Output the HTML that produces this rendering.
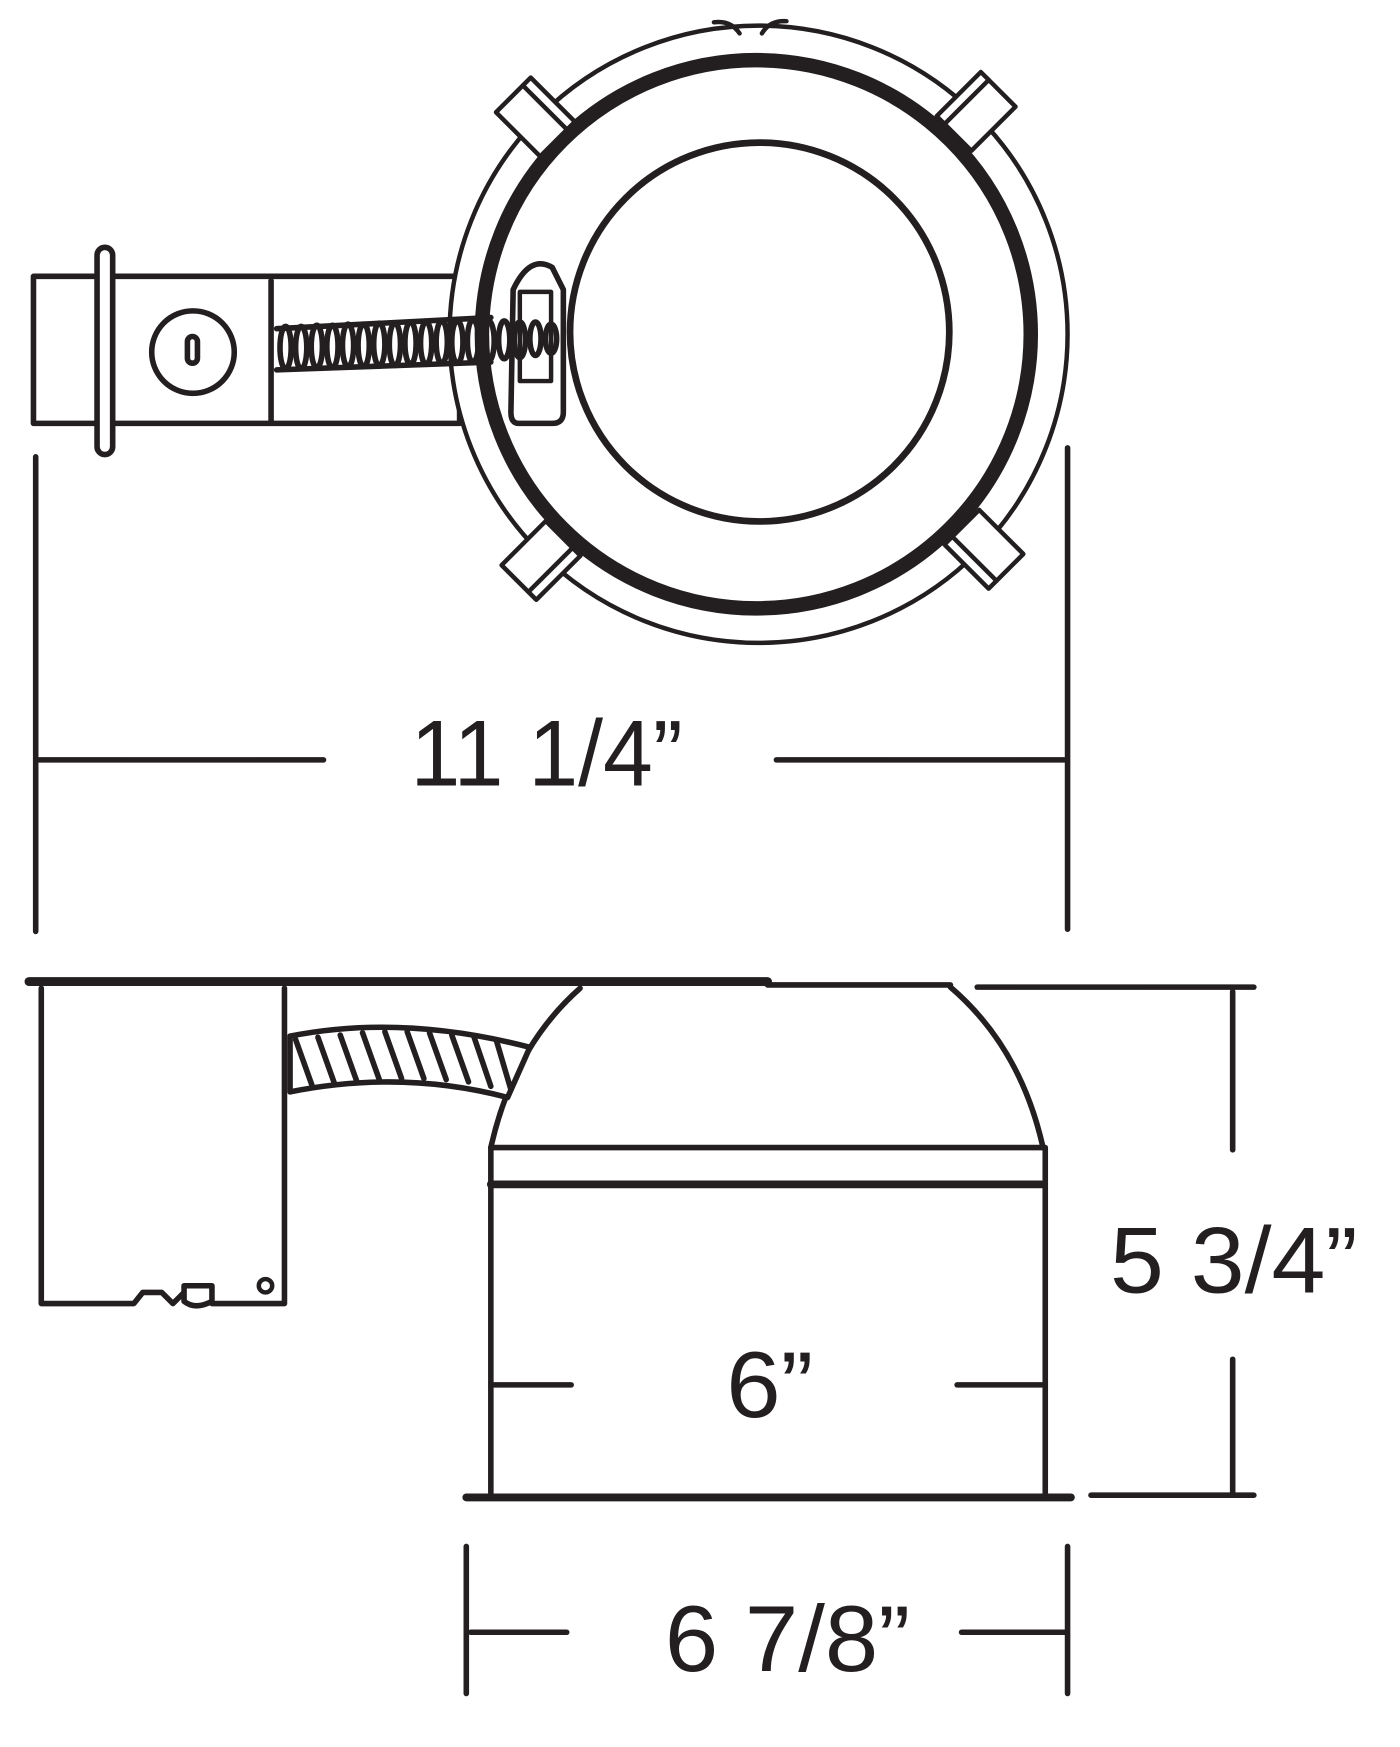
<!DOCTYPE html>
<html><head><style>html,body{margin:0;padding:0;background:#fff}svg{display:block}text{font-family:"Liberation Sans",sans-serif;fill:#231f20}</style></head>
<body>
<svg width="1400" height="1747" viewBox="0 0 1255 1568" preserveAspectRatio="none" xmlns="http://www.w3.org/2000/svg">
<g fill="none" stroke="#231f20" stroke-linecap="round" stroke-linejoin="round">
<rect x="30" y="248" width="382" height="132" stroke-width="5" fill="#fff"/>
<line x1="243" y1="252" x2="243" y2="378" stroke-width="5"/>
<rect x="87" y="222" width="14" height="186" rx="7" stroke-width="5" fill="#fff"/>
<circle cx="173" cy="316" r="37" stroke-width="5"/>
<rect x="168" y="302" width="9" height="24" rx="4.5" stroke-width="5"/>
<circle cx="680" cy="300" r="277" stroke-width="4" fill="#fff"/>
<path d="M663 30 Q655 18 640 20 M683 30 Q690 18 705 19" stroke-width="4"/>
<circle cx="678" cy="300" r="246" stroke-width="13"/>
<circle cx="681" cy="298" r="170" stroke-width="6"/>
<g stroke-width="5">
<path d="M248 295 L440 285 M248 332 L440 325"/>
<ellipse cx="256" cy="312" rx="5" ry="19"/><ellipse cx="270" cy="312" rx="5" ry="19"/><ellipse cx="284" cy="311" rx="5" ry="19"/><ellipse cx="298" cy="311" rx="5" ry="19"/><ellipse cx="312" cy="310" rx="5" ry="19"/><ellipse cx="326" cy="310" rx="5" ry="19"/><ellipse cx="340" cy="309" rx="5" ry="19"/><ellipse cx="354" cy="309" rx="5" ry="19"/><ellipse cx="368" cy="308" rx="5" ry="19"/><ellipse cx="382" cy="308" rx="5" ry="19"/><ellipse cx="396" cy="307" rx="5" ry="19"/><ellipse cx="410" cy="307" rx="5" ry="19"/><ellipse cx="424" cy="306" rx="5" ry="19"/><ellipse cx="438" cy="306" rx="5" ry="18"/><ellipse cx="452" cy="305" rx="5" ry="17"/><ellipse cx="466" cy="305" rx="5" ry="16"/><ellipse cx="480" cy="304" rx="5" ry="15"/><ellipse cx="494" cy="304" rx="5" ry="13"/>
</g>
<path d="M460 260 Q475 228 495 240 L505 260 L505 370 Q505 380 495 380 L465 380 Q458 380 458 370 Z" stroke-width="5" fill="none"/>
<rect x="466" y="262" width="28" height="80" stroke-width="4"/>
<g stroke-width="4" fill="#fff">
<g transform="translate(480,105) rotate(45)"><rect x="-28" y="-22" width="56" height="44"/><line x1="-28" y1="-12" x2="28" y2="-12"/></g>
<g transform="translate(875,100) rotate(-45)"><rect x="-28" y="-22" width="56" height="44"/><line x1="-28" y1="-12" x2="28" y2="-12"/></g>
<g transform="translate(485,503) rotate(-45)"><rect x="-28" y="-22" width="56" height="44"/><line x1="-28" y1="12" x2="28" y2="12"/></g>
<g transform="translate(882,493) rotate(45)"><rect x="-28" y="-22" width="56" height="44"/><line x1="-28" y1="12" x2="28" y2="12"/></g>
</g>
<g stroke-width="5">
<line x1="32" y1="410" x2="32" y2="836"/><line x1="957" y1="402" x2="957" y2="834"/>
<line x1="35" y1="682" x2="290" y2="682"/><line x1="696" y1="682" x2="954" y2="682"/>
</g>
<line x1="26" y1="881" x2="688" y2="881" stroke-width="8"/>
<line x1="688" y1="884" x2="852" y2="884" stroke-width="5"/>
<line x1="876" y1="886" x2="1124" y2="886" stroke-width="5"/>
<path d="M37 887 L37 1170 L120 1170 L128 1160 L145 1160 L155 1170 L165 1160 L165 1168 Q175 1176 190 1168 L190 1154 L165 1154 L165 1160 M190 1170 L255 1170 L255 887" stroke-width="5" fill="#fff"/>
<circle cx="238" cy="1154" r="6" stroke-width="4"/>
<path d="M520 887 Q460 940 440 1030 M852 886 Q915 940 935 1030" stroke-width="5"/>
<path d="M260 930 Q360 910 475 940 L455 985 Q360 960 260 980 Z" stroke-width="5" fill="#fff"/>
<g stroke-width="5"><line x1="265" y1="933" x2="280" y2="975"/><line x1="285" y1="931" x2="300" y2="973"/><line x1="305" y1="929" x2="320" y2="971"/><line x1="325" y1="927" x2="340" y2="969"/><line x1="345" y1="926" x2="360" y2="968"/><line x1="365" y1="926" x2="380" y2="968"/><line x1="385" y1="927" x2="400" y2="969"/><line x1="405" y1="929" x2="420" y2="971"/><line x1="425" y1="931" x2="440" y2="975"/><line x1="445" y1="934" x2="458" y2="978"/></g>
<line x1="440" y1="1030" x2="935" y2="1030" stroke-width="5"/>
<line x1="440" y1="1063" x2="935" y2="1063" stroke-width="7"/>
<line x1="440" y1="1030" x2="440" y2="1340" stroke-width="5"/>
<line x1="937" y1="1030" x2="937" y2="1340" stroke-width="5"/>
<line x1="418" y1="1344" x2="960" y2="1344" stroke-width="7"/>
<g stroke-width="5">
<line x1="443" y1="1243" x2="512" y2="1243"/><line x1="858" y1="1243" x2="934" y2="1243"/>
<line x1="1105" y1="890" x2="1105" y2="1032"/><line x1="1105" y1="1220" x2="1105" y2="1340"/>
<line x1="978" y1="1342" x2="1124" y2="1342"/>
<line x1="418" y1="1388" x2="418" y2="1520"/><line x1="957" y1="1388" x2="957" y2="1520"/>
<line x1="422" y1="1465" x2="508" y2="1465"/><line x1="862" y1="1465" x2="955" y2="1465"/>
</g>
</g>
<text x="368" y="705" font-size="84" textLength="244" lengthAdjust="spacingAndGlyphs">11 1/4”</text>
<text x="995" y="1160" font-size="84" textLength="222" lengthAdjust="spacingAndGlyphs">5 3/4”</text>
<text x="651" y="1272" font-size="84" textLength="78" lengthAdjust="spacingAndGlyphs">6”</text>
<text x="596" y="1500" font-size="84" textLength="220" lengthAdjust="spacingAndGlyphs">6 7/8”</text>
</svg>
</body></html>
